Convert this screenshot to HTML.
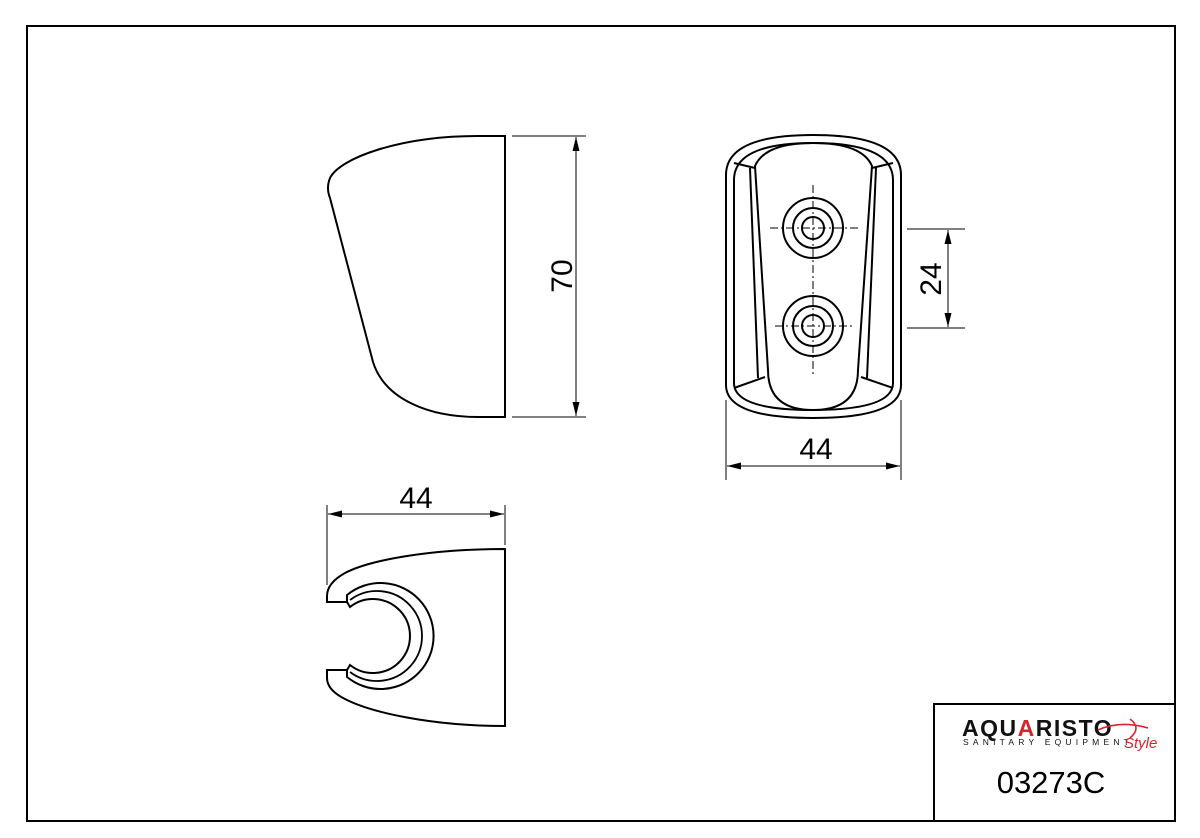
<!DOCTYPE html>
<html><head><style>body{margin:0;background:#fff}svg{display:block}text{font-family:"Liberation Sans",sans-serif}</style></head><body>
<svg width="1200" height="838" viewBox="0 0 1200 838" xmlns="http://www.w3.org/2000/svg">
<defs><marker id="a" viewBox="0 0 14 8" refX="14" refY="4" markerWidth="14" markerHeight="8" orient="auto-start-reverse" markerUnits="userSpaceOnUse"><path d="M0,0.5 L14,4 L0,7.5 Z" fill="#000"/></marker></defs>
<rect x="27" y="26" width="1148" height="795" fill="none" stroke="#000" stroke-width="2"/>
<rect x="934" y="704" width="241" height="117" fill="none" stroke="#000" stroke-width="2"/>
<g fill="none" stroke="#000" stroke-width="2">
<path d="M505,136 L478,136 C400,136 340,158 330,178 Q326,188 330,198 L373,362 C385,400 430,417 478,417 L505,417 Z"/>
<path d="M726,175 Q726,135 813,135 Q901,135 901,175 L901,385 Q901,418 813,418 Q726,418 726,385 Z"/>
<path d="M734,180 Q734,143 813,143 Q893,143 893,180 L893,383 Q893,410 813,410 Q734,410 734,383 Z"/>
<path d="M755,166 Q765,143 813,143 Q862,143 872,166 L858,370 Q858,410 813,410 Q768,410 768,370 Z"/>
<path d="M734,163 L755,168 M750,168 L758,378 M893,163 L872,168 M876,168 L867,378 M734,388 L765,377 M893,388 L861,377"/>
<circle cx="813" cy="228" r="30"/><circle cx="813" cy="228" r="20"/><circle cx="813" cy="228" r="11"/>
<circle cx="813" cy="326" r="30"/><circle cx="813" cy="326" r="20"/><circle cx="813" cy="326" r="11"/>
<path d="M505,549 C430,549 370,560 345,573 Q327,583 327,596 L327,602 L347,602 L350,607 A37,37 0 1 1 350,665 L347,670 L327,670 L327,678 Q327,690 345,699 C370,712 430,726 505,726 Z"/>
<path d="M347,602 L347,595 A53,53 0 1 1 347,677 L347,670"/>
<path d="M350,600 A45,45 0 1 1 350,672" stroke-width="1.8"/>
</g>
<g stroke="#000" stroke-width="1" stroke-dasharray="8,3,2,3" fill="none">
<path d="M813,185 V375 M770,228 H858 M775,326 H852"/>
</g>
<g stroke="#000" stroke-width="1" fill="none">
<path d="M512,136 H586 M512,417 H586"/>
<path d="M576,137 V416" marker-start="url(#a)" marker-end="url(#a)"/>
<path d="M907,229 H965 M907,328 H965"/>
<path d="M948,230 V327" marker-start="url(#a)" marker-end="url(#a)"/>
<path d="M726,400 V480 M901,400 V480"/>
<path d="M727,466 H900" marker-start="url(#a)" marker-end="url(#a)"/>
<path d="M327,505 V585 M505,505 V545"/>
<path d="M328,514 H504" marker-start="url(#a)" marker-end="url(#a)"/>
</g>
<g font-size="30" fill="#000">
<text x="572" y="276" transform="rotate(-90 572 276)" text-anchor="middle">70</text>
<text x="941" y="279" transform="rotate(-90 941 279)" text-anchor="middle">24</text>
<text x="816" y="459" text-anchor="middle">44</text>
<text x="416" y="508" text-anchor="middle">44</text>
<text x="1051" y="793" text-anchor="middle" font-size="31">03273C</text>
</g>
<text x="962" y="736" font-size="23" font-weight="bold" letter-spacing="1.5" fill="#111">AQU<tspan fill="#d9232d">A</tspan>RISTO</text>
<text x="963" y="745" font-size="8.5" letter-spacing="4.2" fill="#111">SANITARY EQUIPMENT</text>
<text x="1124" y="748" font-size="15" font-style="italic" fill="#d9232d" font-family="Liberation Serif,serif">Style</text>
<path d="M1098,730 Q1120,720 1148,728 M1130,719 Q1142,728 1130,738" stroke="#d9232d" stroke-width="1.6" fill="none"/>
</svg>
</body></html>
